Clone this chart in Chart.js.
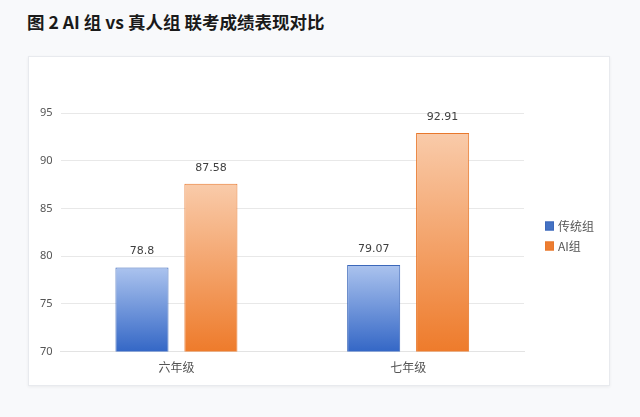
<!DOCTYPE html>
<html>
<head>
<meta charset="utf-8">
<script src="https://cdn.jsdelivr.net/npm/chart.js@4"></script>
<style>
  html, body { margin: 0; padding: 0; }
  body { width: 640px; height: 417px; background: #f8f9fb; position: relative; overflow: hidden;
         font-family: "Noto Sans CJK SC", "Noto Sans", sans-serif; }
  #title { position: absolute; left: 27px; top: 9px; font-size: 17.5px; font-weight: bold; color: #1a1a1a; }
  #card { position: absolute; left: 28px; top: 56px; width: 580px; height: 328px; background: #fff;
          border: 1px solid #e8eaee; box-shadow: 0 1px 3px rgba(0,0,0,0.06); }
  #card canvas { display: block; }
</style>
</head>
<body>
<div id="title">图 2 AI 组 vs 真人组 联考成绩表现对比</div>
<div id="card"><canvas id="myChart" width="580" height="328"></canvas></div>
<script>
// categories and series
const grades = ['六年级', '七年级'];
const traditional = [78.8, 79.07];
const aiGroup = [87.58, 92.91];
const yTicks = [70, 75, 80, 85, 90, 95];

// gradient for each bar, light on top, strong at the bottom
function barGradient(context, topColor, bottomColor) {
  const chart = context.chart;
  const area = chart.chartArea;
  if (!area || !chart.scales.y) return bottomColor;
  const yTop = chart.scales.y.getPixelForValue(context.raw);
  const g = chart.ctx.createLinearGradient(0, yTop, 0, area.bottom);
  g.addColorStop(0, topColor);
  g.addColorStop(1, bottomColor);
  return g;
}

// writes the value over every bar
const valueLabels = {
  id: 'valueLabels',
  afterDatasetsDraw(chart) {
    const ctx = chart.ctx;
    ctx.save();
    ctx.font = '11px "DejaVu Sans", sans-serif';
    ctx.fillStyle = '#404040';
    ctx.textAlign = 'center';
    ctx.textBaseline = 'middle';
    chart.data.datasets.forEach((ds, i) => {
      chart.getDatasetMeta(i).data.forEach((bar, j) => {
        ctx.fillText(String(ds.data[j]), bar.x, bar.y - 16);
      });
    });
    ctx.restore();
  }
};

// legend on the right, drawn next to the plot
const sideLegend = {
  id: 'sideLegend',
  afterDraw(chart) {
    const ctx = chart.ctx;
    const area = chart.chartArea;
    const x = area.right + 21;
    let y = 169;
    ctx.save();
    ctx.font = '12px "Noto Sans CJK SC", sans-serif';
    ctx.textBaseline = 'middle';
    chart.data.datasets.forEach(ds => {
      ctx.fillStyle = ds.legendColor;
      ctx.fillRect(x, y - 4.5, 9, 9);
      ctx.strokeStyle = ds.borderColor;
      ctx.lineWidth = 1;
      ctx.strokeRect(x + 0.5, y - 4, 8, 8);
      ctx.fillStyle = '#555';
      ctx.fillText(ds.label, x + 13, y);
      y += 20;
    });
    ctx.restore();
  }
};

const myChart = document.getElementById('myChart');
new Chart(myChart, {
  type: 'bar',
  data: {
    labels: grades,
    datasets: [
      {
        label: '传统组',
        data: traditional,
        backgroundColor: ctx => barGradient(ctx, '#abc3ee', '#3467c6'),
        borderColor: '#3c68ba',
        borderWidth: 1,
        legendColor: '#4472c4'
      },
      {
        label: 'AI组',
        data: aiGroup,
        backgroundColor: ctx => barGradient(ctx, '#f9cbaa', '#ee7b2b'),
        borderColor: '#e8782c',
        borderWidth: 1,
        legendColor: '#ed7d31'
      }
    ]
  },
  options: {
    responsive: false,
    animation: false,
    devicePixelRatio: 1,
    categoryPercentage: 0.595,
    barPercentage: 0.77,
    layout: { padding: { top: 56, left: 3, right: 85, bottom: 1 } },
    plugins: {
      tooltip: { enabled: false },
      legend: { display: false }
    },
    scales: {
      x: {
        grid: { display: false, drawTicks: false },
        border: { color: '#e3e3e3' },
        ticks: {
          color: '#555',
          padding: 9,
          font: { size: 12, family: '"Noto Sans CJK SC", sans-serif' }
        }
      },
      y: {
        min: 70,
        max: 95,
        afterBuildTicks(axis) {
          axis.ticks = yTicks.map(v => ({ value: v }));
        },
        grid: { color: '#e8e8e8', drawTicks: false },
        border: { display: false },
        ticks: {
          color: '#555',
          padding: 8,
          font: { size: 11, family: '"Noto Sans", sans-serif' }
        }
      }
    }
  },
  plugins: [valueLabels, sideLegend]
});
</script>
</body>
</html>
